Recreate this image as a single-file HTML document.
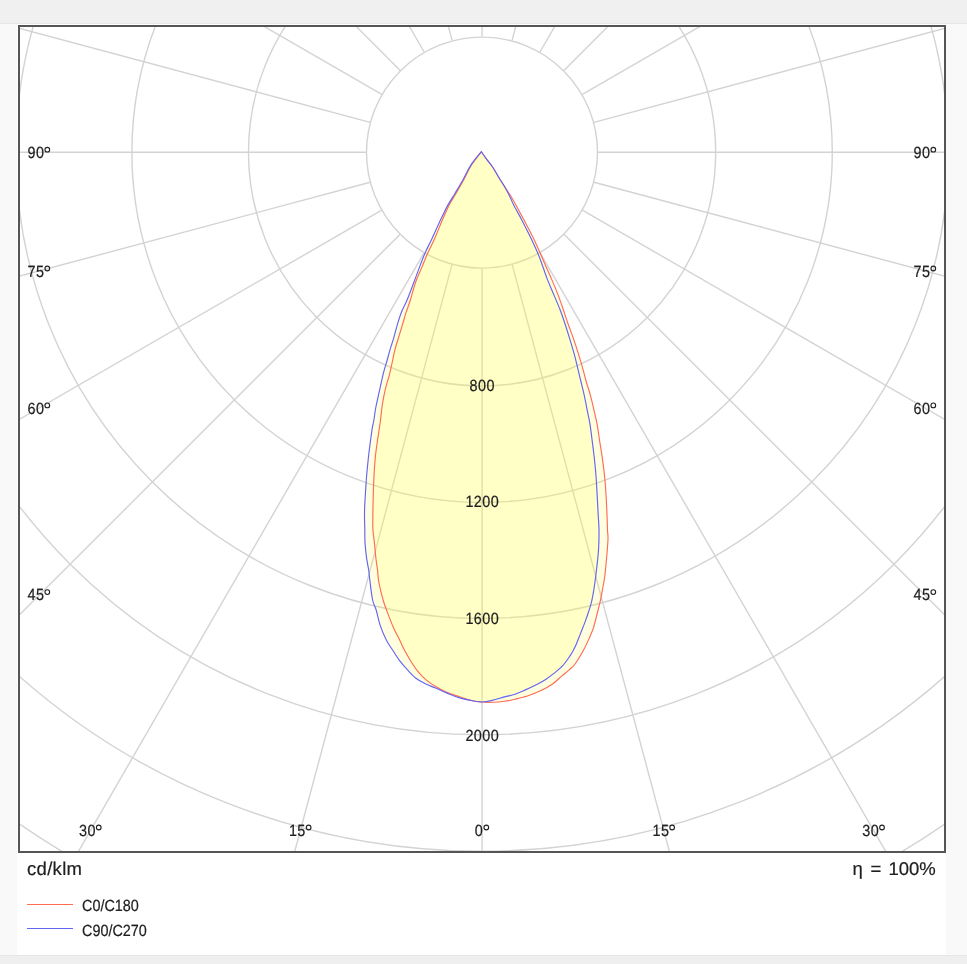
<!DOCTYPE html>
<html><head><meta charset="utf-8"><style>
html,body{margin:0;padding:0;width:967px;height:964px;overflow:hidden;background:#f9f9f9;font-family:"Liberation Sans", sans-serif;}
</style></head><body>
<svg width="967" height="964" viewBox="0 0 967 964" style="position:absolute;left:0;top:0"><rect x="0" y="0" width="967" height="964" fill="#f9f9f9"/><rect x="0" y="0" width="967" height="23" fill="#f0f0f0"/><rect x="0" y="23" width="967" height="1" fill="#e6e6e6"/><rect x="17" y="24" width="929" height="931" fill="#ffffff"/><rect x="0" y="955" width="967" height="1" fill="#e6e6e6"/><rect x="0" y="956" width="967" height="8" fill="#efefef"/><defs><clipPath id="c"><rect x="20" y="27" width="924" height="824"/></clipPath></defs><g clip-path="url(#c)"><g fill="none" stroke="#d3d3d3" stroke-width="1.4"><circle cx="482.08" cy="152.28" r="233.6"/><circle cx="482.08" cy="152.28" r="350.2"/><circle cx="482.08" cy="152.28" r="466.2"/><circle cx="482.08" cy="152.28" r="582.5"/><circle cx="482.08" cy="152.28" r="699"/><circle cx="482.08" cy="152.28" r="815.5"/><circle cx="482.08" cy="152.28" r="932"/><circle cx="482.0" cy="152.6" r="115.5"/><line x1="482.08" y1="268.08" x2="482.08" y2="1352.28"/><line x1="512.05" y1="264.13" x2="792.66" y2="1311.39"/><line x1="539.98" y1="252.57" x2="1082.08" y2="1191.51"/><line x1="563.96" y1="234.16" x2="1330.61" y2="1000.81"/><line x1="582.37" y1="210.18" x2="1521.31" y2="752.28"/><line x1="593.93" y1="182.25" x2="1641.19" y2="462.86"/><line x1="597.88" y1="152.28" x2="1682.08" y2="152.28"/><line x1="593.93" y1="122.31" x2="1641.19" y2="-158.3"/><line x1="582.37" y1="94.38" x2="1521.31" y2="-447.72"/><line x1="563.96" y1="70.4" x2="1330.61" y2="-696.25"/><line x1="539.98" y1="51.99" x2="1082.08" y2="-886.95"/><line x1="512.05" y1="40.43" x2="792.66" y2="-1006.83"/><line x1="482.08" y1="36.48" x2="482.08" y2="-1047.72"/><line x1="452.11" y1="40.43" x2="171.5" y2="-1006.83"/><line x1="424.18" y1="51.99" x2="-117.92" y2="-886.95"/><line x1="400.2" y1="70.4" x2="-366.45" y2="-696.25"/><line x1="381.79" y1="94.38" x2="-557.15" y2="-447.72"/><line x1="370.23" y1="122.31" x2="-677.03" y2="-158.3"/><line x1="366.28" y1="152.28" x2="-717.92" y2="152.28"/><line x1="370.23" y1="182.25" x2="-677.03" y2="462.86"/><line x1="381.79" y1="210.18" x2="-557.15" y2="752.28"/><line x1="400.2" y1="234.16" x2="-366.45" y2="1000.81"/><line x1="424.18" y1="252.57" x2="-117.92" y2="1191.51"/><line x1="452.11" y1="264.13" x2="171.5" y2="1311.39"/></g><path d="M481.40,151.70 C479.67,153.90 474.08,160.18 471.00,164.90 C467.92,169.62 465.60,175.20 462.90,180.00 C460.20,184.80 457.28,189.55 454.80,193.70 C452.32,197.85 450.27,200.75 448.00,204.90 C445.73,209.05 443.93,212.83 441.20,218.60 C438.47,224.37 434.25,233.87 431.60,239.50 C428.95,245.13 427.25,247.97 425.30,252.40 C423.35,256.83 421.80,261.12 419.90,266.10 C418.00,271.08 416.03,276.65 413.90,282.30 C411.77,287.95 409.12,295.18 407.10,300.00 C405.08,304.82 403.32,307.47 401.80,311.20 C400.28,314.93 399.32,318.05 398.00,322.40 C396.68,326.75 395.23,332.73 393.90,337.30 C392.57,341.87 391.12,346.02 390.00,349.80 C388.88,353.58 388.27,356.23 387.20,360.00 C386.13,363.77 384.72,368.05 383.60,372.40 C382.48,376.75 381.43,381.95 380.50,386.10 C379.57,390.25 378.82,393.57 378.00,397.30 C377.18,401.03 376.28,404.72 375.60,408.50 C374.92,412.28 374.43,416.85 373.90,420.00 C373.37,423.15 372.95,424.08 372.40,427.40 C371.85,430.72 371.17,435.75 370.60,439.90 C370.03,444.05 369.47,448.37 369.00,452.30 C368.53,456.23 368.20,459.55 367.80,463.50 C367.40,467.45 366.97,471.47 366.60,476.00 C366.23,480.53 365.92,485.70 365.60,490.70 C365.28,495.70 364.88,501.67 364.70,506.00 C364.52,510.33 364.48,512.70 364.50,516.70 C364.52,520.70 364.72,525.68 364.80,530.00 C364.88,534.32 364.70,537.90 365.00,542.60 C365.30,547.30 365.98,553.63 366.60,558.20 C367.22,562.77 368.17,566.37 368.70,570.00 C369.23,573.63 369.15,575.00 369.80,580.00 C370.45,585.00 371.53,595.00 372.60,600.00 C373.67,605.00 374.97,605.85 376.20,610.00 C377.43,614.15 378.33,619.93 380.00,624.90 C381.67,629.87 384.13,635.65 386.20,639.80 C388.27,643.95 390.10,646.23 392.40,649.80 C394.70,653.37 397.48,657.85 400.00,661.20 C402.52,664.55 404.90,667.10 407.50,669.90 C410.10,672.70 412.70,675.72 415.60,678.00 C418.50,680.28 421.58,681.93 424.90,683.60 C428.22,685.27 431.87,686.45 435.50,688.00 C439.13,689.55 442.67,691.25 446.70,692.90 C450.73,694.55 455.22,696.55 459.70,697.90 C464.18,699.25 469.88,700.32 473.60,701.00 C477.32,701.68 478.90,702.10 482.00,702.00 C485.10,701.90 488.43,701.25 492.20,700.40 C495.97,699.55 500.80,697.93 504.60,696.90 C508.40,695.87 511.72,695.28 515.00,694.20 C518.28,693.12 520.67,692.02 524.30,690.40 C527.93,688.78 533.17,686.37 536.80,684.50 C540.43,682.63 543.30,681.02 546.10,679.20 C548.90,677.38 550.90,675.77 553.60,673.60 C556.30,671.43 559.60,669.10 562.30,666.20 C565.00,663.30 567.93,658.90 569.80,656.20 C571.67,653.50 572.33,652.22 573.50,650.00 C574.67,647.78 575.63,645.63 576.80,642.90 C577.97,640.17 579.15,637.02 580.50,633.60 C581.85,630.18 583.55,626.03 584.90,622.40 C586.25,618.77 587.47,615.33 588.60,611.80 C589.73,608.27 590.73,605.50 591.70,601.20 C592.67,596.90 593.55,591.65 594.40,586.00 C595.25,580.35 596.10,573.52 596.80,567.30 C597.50,561.08 598.23,554.92 598.60,548.70 C598.97,542.48 599.07,535.67 599.00,530.00 C598.93,524.33 598.50,520.37 598.20,514.70 C597.90,509.03 597.55,502.23 597.20,496.00 C596.85,489.77 596.57,483.52 596.10,477.30 C595.63,471.08 595.07,464.92 594.40,458.70 C593.73,452.48 592.85,445.85 592.10,440.00 C591.35,434.15 590.68,428.42 589.90,423.60 C589.12,418.78 588.33,415.77 587.40,411.10 C586.47,406.43 585.40,400.62 584.30,395.60 C583.20,390.58 581.85,385.38 580.80,381.00 C579.75,376.62 579.08,373.73 578.00,369.30 C576.92,364.87 575.65,359.38 574.30,354.40 C572.95,349.42 571.55,344.80 569.90,339.40 C568.25,334.00 566.07,327.02 564.40,322.00 C562.73,316.98 561.68,313.90 559.90,309.30 C558.12,304.70 555.78,299.38 553.70,294.40 C551.62,289.42 549.48,284.80 547.40,279.40 C545.32,274.00 542.87,266.52 541.20,262.00 C539.53,257.48 539.28,256.62 537.40,252.30 C535.52,247.98 532.50,241.50 529.90,236.10 C527.30,230.70 524.50,225.08 521.80,219.90 C519.10,214.72 515.68,208.87 513.70,205.00 C511.72,201.13 511.37,199.65 509.90,196.70 C508.43,193.75 506.57,190.22 504.90,187.30 C503.23,184.38 501.98,182.62 499.90,179.20 C497.82,175.78 494.68,170.22 492.40,166.80 C490.12,163.38 488.03,161.22 486.20,158.70 C484.37,156.18 482.20,152.87 481.40,151.70 Z" fill="#ffff40" fill-opacity="0.16"/><path d="M481.40,151.70 C479.72,153.95 474.27,160.48 471.30,165.20 C468.33,169.92 466.23,175.15 463.60,180.00 C460.97,184.85 457.90,190.15 455.50,194.30 C453.10,198.45 451.28,200.85 449.20,204.90 C447.12,208.95 445.53,212.75 443.00,218.60 C440.47,224.45 436.60,234.15 434.00,240.00 C431.40,245.85 429.43,249.13 427.40,253.70 C425.37,258.27 423.77,262.63 421.80,267.40 C419.83,272.17 417.50,276.87 415.60,282.30 C413.70,287.73 411.98,294.98 410.40,300.00 C408.82,305.02 407.43,308.25 406.10,312.40 C404.77,316.55 403.65,320.75 402.40,324.90 C401.15,329.05 399.85,333.15 398.60,337.30 C397.35,341.45 395.88,346.02 394.90,349.80 C393.92,353.58 393.65,355.70 392.70,360.00 C391.75,364.30 390.30,371.25 389.20,375.60 C388.10,379.95 387.03,382.48 386.10,386.10 C385.17,389.72 384.32,393.57 383.60,397.30 C382.88,401.03 382.32,404.72 381.80,408.50 C381.28,412.28 380.97,416.32 380.50,420.00 C380.03,423.68 379.57,426.77 379.00,430.60 C378.43,434.43 377.68,438.87 377.10,443.00 C376.52,447.13 375.92,451.57 375.50,455.40 C375.08,459.23 374.85,462.57 374.60,466.00 C374.35,469.43 374.20,471.88 374.00,476.00 C373.80,480.12 373.58,484.92 373.40,490.70 C373.22,496.48 372.98,504.25 372.90,510.70 C372.82,517.15 372.65,524.08 372.90,529.40 C373.15,534.72 373.90,537.80 374.40,542.60 C374.90,547.40 375.38,553.63 375.90,558.20 C376.42,562.77 377.02,566.03 377.50,570.00 C377.98,573.97 377.87,577.00 378.80,582.00 C379.73,587.00 381.67,594.93 383.10,600.00 C384.53,605.07 385.65,607.73 387.40,612.40 C389.15,617.07 391.52,623.33 393.60,628.00 C395.68,632.67 398.10,636.73 399.90,640.40 C401.70,644.07 402.32,646.12 404.40,650.00 C406.48,653.88 410.02,659.97 412.40,663.70 C414.78,667.43 416.42,669.70 418.70,672.40 C420.98,675.10 423.42,677.62 426.10,679.90 C428.78,682.18 431.37,684.03 434.80,686.10 C438.23,688.17 442.55,690.53 446.70,692.30 C450.85,694.07 455.22,695.25 459.70,696.70 C464.18,698.15 469.88,700.12 473.60,701.00 C477.32,701.88 478.90,701.78 482.00,702.00 C485.10,702.22 488.43,702.42 492.20,702.30 C495.97,702.18 500.80,701.82 504.60,701.30 C508.40,700.78 511.20,700.08 515.00,699.20 C518.80,698.32 523.25,697.35 527.40,696.00 C531.55,694.65 535.75,693.07 539.90,691.10 C544.05,689.13 548.67,686.70 552.30,684.20 C555.93,681.70 558.90,678.48 561.70,676.10 C564.50,673.72 566.88,671.92 569.10,669.90 C571.32,667.88 572.58,667.32 575.00,664.00 C577.42,660.68 581.12,654.55 583.60,650.00 C586.08,645.45 588.23,640.48 589.90,636.70 C591.57,632.92 592.37,631.25 593.60,627.30 C594.83,623.35 596.17,617.45 597.30,613.00 C598.43,608.55 599.55,604.43 600.40,600.60 C601.25,596.77 601.68,593.98 602.40,590.00 C603.12,586.02 604.00,582.03 604.70,576.70 C605.40,571.37 606.05,564.23 606.60,558.00 C607.15,551.77 607.85,543.97 608.00,539.30 C608.15,534.63 607.67,534.10 607.50,530.00 C607.33,525.90 607.23,520.37 607.00,514.70 C606.77,509.03 606.48,502.23 606.10,496.00 C605.72,489.77 605.32,483.52 604.70,477.30 C604.08,471.08 603.27,464.92 602.40,458.70 C601.53,452.48 600.40,445.85 599.50,440.00 C598.60,434.15 597.88,428.42 597.00,423.60 C596.12,418.78 595.28,415.77 594.20,411.10 C593.12,406.43 591.88,400.70 590.50,395.60 C589.12,390.50 587.15,384.88 585.90,380.50 C584.65,376.12 584.22,373.65 583.00,369.30 C581.78,364.95 580.15,359.38 578.60,354.40 C577.05,349.42 575.57,344.80 573.70,339.40 C571.83,334.00 569.18,327.12 567.40,322.00 C565.62,316.88 564.67,313.52 563.00,308.70 C561.33,303.88 559.37,298.18 557.40,293.10 C555.43,288.02 553.43,283.38 551.20,278.20 C548.97,273.02 545.90,266.32 544.00,262.00 C542.10,257.68 541.73,256.62 539.80,252.30 C537.87,247.98 534.98,241.38 532.40,236.10 C529.82,230.82 527.05,225.78 524.30,220.60 C521.55,215.42 518.28,209.30 515.90,205.00 C513.52,200.70 511.77,197.70 510.00,194.80 C508.23,191.90 506.98,190.20 505.30,187.60 C503.62,185.00 502.05,182.67 499.90,179.20 C497.75,175.73 494.68,170.22 492.40,166.80 C490.12,163.38 488.03,161.22 486.20,158.70 C484.37,156.18 482.20,152.87 481.40,151.70 Z" fill="#ffff40" fill-opacity="0.16"/><path d="M481.40,151.70 C479.72,153.95 474.27,160.48 471.30,165.20 C468.33,169.92 466.23,175.15 463.60,180.00 C460.97,184.85 457.90,190.15 455.50,194.30 C453.10,198.45 451.28,200.85 449.20,204.90 C447.12,208.95 445.53,212.75 443.00,218.60 C440.47,224.45 436.60,234.15 434.00,240.00 C431.40,245.85 429.43,249.13 427.40,253.70 C425.37,258.27 423.77,262.63 421.80,267.40 C419.83,272.17 417.50,276.87 415.60,282.30 C413.70,287.73 411.98,294.98 410.40,300.00 C408.82,305.02 407.43,308.25 406.10,312.40 C404.77,316.55 403.65,320.75 402.40,324.90 C401.15,329.05 399.85,333.15 398.60,337.30 C397.35,341.45 395.88,346.02 394.90,349.80 C393.92,353.58 393.65,355.70 392.70,360.00 C391.75,364.30 390.30,371.25 389.20,375.60 C388.10,379.95 387.03,382.48 386.10,386.10 C385.17,389.72 384.32,393.57 383.60,397.30 C382.88,401.03 382.32,404.72 381.80,408.50 C381.28,412.28 380.97,416.32 380.50,420.00 C380.03,423.68 379.57,426.77 379.00,430.60 C378.43,434.43 377.68,438.87 377.10,443.00 C376.52,447.13 375.92,451.57 375.50,455.40 C375.08,459.23 374.85,462.57 374.60,466.00 C374.35,469.43 374.20,471.88 374.00,476.00 C373.80,480.12 373.58,484.92 373.40,490.70 C373.22,496.48 372.98,504.25 372.90,510.70 C372.82,517.15 372.65,524.08 372.90,529.40 C373.15,534.72 373.90,537.80 374.40,542.60 C374.90,547.40 375.38,553.63 375.90,558.20 C376.42,562.77 377.02,566.03 377.50,570.00 C377.98,573.97 377.87,577.00 378.80,582.00 C379.73,587.00 381.67,594.93 383.10,600.00 C384.53,605.07 385.65,607.73 387.40,612.40 C389.15,617.07 391.52,623.33 393.60,628.00 C395.68,632.67 398.10,636.73 399.90,640.40 C401.70,644.07 402.32,646.12 404.40,650.00 C406.48,653.88 410.02,659.97 412.40,663.70 C414.78,667.43 416.42,669.70 418.70,672.40 C420.98,675.10 423.42,677.62 426.10,679.90 C428.78,682.18 431.37,684.03 434.80,686.10 C438.23,688.17 442.55,690.53 446.70,692.30 C450.85,694.07 455.22,695.25 459.70,696.70 C464.18,698.15 469.88,700.12 473.60,701.00 C477.32,701.88 478.90,701.78 482.00,702.00 C485.10,702.22 488.43,702.42 492.20,702.30 C495.97,702.18 500.80,701.82 504.60,701.30 C508.40,700.78 511.20,700.08 515.00,699.20 C518.80,698.32 523.25,697.35 527.40,696.00 C531.55,694.65 535.75,693.07 539.90,691.10 C544.05,689.13 548.67,686.70 552.30,684.20 C555.93,681.70 558.90,678.48 561.70,676.10 C564.50,673.72 566.88,671.92 569.10,669.90 C571.32,667.88 572.58,667.32 575.00,664.00 C577.42,660.68 581.12,654.55 583.60,650.00 C586.08,645.45 588.23,640.48 589.90,636.70 C591.57,632.92 592.37,631.25 593.60,627.30 C594.83,623.35 596.17,617.45 597.30,613.00 C598.43,608.55 599.55,604.43 600.40,600.60 C601.25,596.77 601.68,593.98 602.40,590.00 C603.12,586.02 604.00,582.03 604.70,576.70 C605.40,571.37 606.05,564.23 606.60,558.00 C607.15,551.77 607.85,543.97 608.00,539.30 C608.15,534.63 607.67,534.10 607.50,530.00 C607.33,525.90 607.23,520.37 607.00,514.70 C606.77,509.03 606.48,502.23 606.10,496.00 C605.72,489.77 605.32,483.52 604.70,477.30 C604.08,471.08 603.27,464.92 602.40,458.70 C601.53,452.48 600.40,445.85 599.50,440.00 C598.60,434.15 597.88,428.42 597.00,423.60 C596.12,418.78 595.28,415.77 594.20,411.10 C593.12,406.43 591.88,400.70 590.50,395.60 C589.12,390.50 587.15,384.88 585.90,380.50 C584.65,376.12 584.22,373.65 583.00,369.30 C581.78,364.95 580.15,359.38 578.60,354.40 C577.05,349.42 575.57,344.80 573.70,339.40 C571.83,334.00 569.18,327.12 567.40,322.00 C565.62,316.88 564.67,313.52 563.00,308.70 C561.33,303.88 559.37,298.18 557.40,293.10 C555.43,288.02 553.43,283.38 551.20,278.20 C548.97,273.02 545.90,266.32 544.00,262.00 C542.10,257.68 541.73,256.62 539.80,252.30 C537.87,247.98 534.98,241.38 532.40,236.10 C529.82,230.82 527.05,225.78 524.30,220.60 C521.55,215.42 518.28,209.30 515.90,205.00 C513.52,200.70 511.77,197.70 510.00,194.80 C508.23,191.90 506.98,190.20 505.30,187.60 C503.62,185.00 502.05,182.67 499.90,179.20 C497.75,175.73 494.68,170.22 492.40,166.80 C490.12,163.38 488.03,161.22 486.20,158.70 C484.37,156.18 482.20,152.87 481.40,151.70 Z" fill="none" stroke="#ff6c52" stroke-width="1.15"/><path d="M481.40,151.70 C479.67,153.90 474.08,160.18 471.00,164.90 C467.92,169.62 465.60,175.20 462.90,180.00 C460.20,184.80 457.28,189.55 454.80,193.70 C452.32,197.85 450.27,200.75 448.00,204.90 C445.73,209.05 443.93,212.83 441.20,218.60 C438.47,224.37 434.25,233.87 431.60,239.50 C428.95,245.13 427.25,247.97 425.30,252.40 C423.35,256.83 421.80,261.12 419.90,266.10 C418.00,271.08 416.03,276.65 413.90,282.30 C411.77,287.95 409.12,295.18 407.10,300.00 C405.08,304.82 403.32,307.47 401.80,311.20 C400.28,314.93 399.32,318.05 398.00,322.40 C396.68,326.75 395.23,332.73 393.90,337.30 C392.57,341.87 391.12,346.02 390.00,349.80 C388.88,353.58 388.27,356.23 387.20,360.00 C386.13,363.77 384.72,368.05 383.60,372.40 C382.48,376.75 381.43,381.95 380.50,386.10 C379.57,390.25 378.82,393.57 378.00,397.30 C377.18,401.03 376.28,404.72 375.60,408.50 C374.92,412.28 374.43,416.85 373.90,420.00 C373.37,423.15 372.95,424.08 372.40,427.40 C371.85,430.72 371.17,435.75 370.60,439.90 C370.03,444.05 369.47,448.37 369.00,452.30 C368.53,456.23 368.20,459.55 367.80,463.50 C367.40,467.45 366.97,471.47 366.60,476.00 C366.23,480.53 365.92,485.70 365.60,490.70 C365.28,495.70 364.88,501.67 364.70,506.00 C364.52,510.33 364.48,512.70 364.50,516.70 C364.52,520.70 364.72,525.68 364.80,530.00 C364.88,534.32 364.70,537.90 365.00,542.60 C365.30,547.30 365.98,553.63 366.60,558.20 C367.22,562.77 368.17,566.37 368.70,570.00 C369.23,573.63 369.15,575.00 369.80,580.00 C370.45,585.00 371.53,595.00 372.60,600.00 C373.67,605.00 374.97,605.85 376.20,610.00 C377.43,614.15 378.33,619.93 380.00,624.90 C381.67,629.87 384.13,635.65 386.20,639.80 C388.27,643.95 390.10,646.23 392.40,649.80 C394.70,653.37 397.48,657.85 400.00,661.20 C402.52,664.55 404.90,667.10 407.50,669.90 C410.10,672.70 412.70,675.72 415.60,678.00 C418.50,680.28 421.58,681.93 424.90,683.60 C428.22,685.27 431.87,686.45 435.50,688.00 C439.13,689.55 442.67,691.25 446.70,692.90 C450.73,694.55 455.22,696.55 459.70,697.90 C464.18,699.25 469.88,700.32 473.60,701.00 C477.32,701.68 478.90,702.10 482.00,702.00 C485.10,701.90 488.43,701.25 492.20,700.40 C495.97,699.55 500.80,697.93 504.60,696.90 C508.40,695.87 511.72,695.28 515.00,694.20 C518.28,693.12 520.67,692.02 524.30,690.40 C527.93,688.78 533.17,686.37 536.80,684.50 C540.43,682.63 543.30,681.02 546.10,679.20 C548.90,677.38 550.90,675.77 553.60,673.60 C556.30,671.43 559.60,669.10 562.30,666.20 C565.00,663.30 567.93,658.90 569.80,656.20 C571.67,653.50 572.33,652.22 573.50,650.00 C574.67,647.78 575.63,645.63 576.80,642.90 C577.97,640.17 579.15,637.02 580.50,633.60 C581.85,630.18 583.55,626.03 584.90,622.40 C586.25,618.77 587.47,615.33 588.60,611.80 C589.73,608.27 590.73,605.50 591.70,601.20 C592.67,596.90 593.55,591.65 594.40,586.00 C595.25,580.35 596.10,573.52 596.80,567.30 C597.50,561.08 598.23,554.92 598.60,548.70 C598.97,542.48 599.07,535.67 599.00,530.00 C598.93,524.33 598.50,520.37 598.20,514.70 C597.90,509.03 597.55,502.23 597.20,496.00 C596.85,489.77 596.57,483.52 596.10,477.30 C595.63,471.08 595.07,464.92 594.40,458.70 C593.73,452.48 592.85,445.85 592.10,440.00 C591.35,434.15 590.68,428.42 589.90,423.60 C589.12,418.78 588.33,415.77 587.40,411.10 C586.47,406.43 585.40,400.62 584.30,395.60 C583.20,390.58 581.85,385.38 580.80,381.00 C579.75,376.62 579.08,373.73 578.00,369.30 C576.92,364.87 575.65,359.38 574.30,354.40 C572.95,349.42 571.55,344.80 569.90,339.40 C568.25,334.00 566.07,327.02 564.40,322.00 C562.73,316.98 561.68,313.90 559.90,309.30 C558.12,304.70 555.78,299.38 553.70,294.40 C551.62,289.42 549.48,284.80 547.40,279.40 C545.32,274.00 542.87,266.52 541.20,262.00 C539.53,257.48 539.28,256.62 537.40,252.30 C535.52,247.98 532.50,241.50 529.90,236.10 C527.30,230.70 524.50,225.08 521.80,219.90 C519.10,214.72 515.68,208.87 513.70,205.00 C511.72,201.13 511.37,199.65 509.90,196.70 C508.43,193.75 506.57,190.22 504.90,187.30 C503.23,184.38 501.98,182.62 499.90,179.20 C497.82,175.78 494.68,170.22 492.40,166.80 C490.12,163.38 488.03,161.22 486.20,158.70 C484.37,156.18 482.20,152.87 481.40,151.70 Z" fill="none" stroke="#6464f4" stroke-width="1.15"/></g><rect x="19" y="26" width="926" height="826" fill="none" stroke="#555555" stroke-width="2"/><g font-family='"Liberation Sans", sans-serif' fill="#202020" stroke="#202020" stroke-width="0.2" style="will-change:transform" text-rendering="geometricPrecision"><text transform="translate(482.28,390.7) scale(0.889,1)" text-anchor="middle" font-size="16.2" letter-spacing="0.5">800</text><text transform="translate(482.28,506.7) scale(0.889,1)" text-anchor="middle" font-size="16.2" letter-spacing="0.5">1200</text><text transform="translate(482.28,623.6) scale(0.889,1)" text-anchor="middle" font-size="16.2" letter-spacing="0.5">1600</text><text transform="translate(482.28,740.9) scale(0.889,1)" text-anchor="middle" font-size="16.2" letter-spacing="0.5">2000</text><text transform="translate(27.6,158) scale(0.889,1)" text-anchor="start" font-size="16.2" letter-spacing="0.5">90</text><text transform="translate(913.6,158) scale(0.889,1)" text-anchor="start" font-size="16.2" letter-spacing="0.5">90</text><text transform="translate(27.6,276.8) scale(0.889,1)" text-anchor="start" font-size="16.2" letter-spacing="0.5">75</text><text transform="translate(913.6,276.8) scale(0.889,1)" text-anchor="start" font-size="16.2" letter-spacing="0.5">75</text><text transform="translate(27.6,413.7) scale(0.889,1)" text-anchor="start" font-size="16.2" letter-spacing="0.5">60</text><text transform="translate(913.6,413.7) scale(0.889,1)" text-anchor="start" font-size="16.2" letter-spacing="0.5">60</text><text transform="translate(27.6,600.4) scale(0.889,1)" text-anchor="start" font-size="16.2" letter-spacing="0.5">45</text><text transform="translate(913.6,600.4) scale(0.889,1)" text-anchor="start" font-size="16.2" letter-spacing="0.5">45</text><text transform="translate(79.05,835.8) scale(0.889,1)" text-anchor="start" font-size="16.2" letter-spacing="0.5">30</text><text transform="translate(862.31,835.8) scale(0.889,1)" text-anchor="start" font-size="16.2" letter-spacing="0.5">30</text><text transform="translate(288.92,835.8) scale(0.889,1)" text-anchor="start" font-size="16.2" letter-spacing="0.5">15</text><text transform="translate(652.44,835.8) scale(0.889,1)" text-anchor="start" font-size="16.2" letter-spacing="0.5">15</text><text transform="translate(474.75,835.8) scale(0.889,1)" text-anchor="start" font-size="16.2" letter-spacing="0.5">0</text><text transform="translate(27,874.8) scale(1,1)" text-anchor="start" font-size="18.5" letter-spacing="0.3">cd/klm</text><text transform="translate(852.5,874.8) scale(1,1)" text-anchor="start" font-size="18.5" >η</text><text transform="translate(870.5,874.8) scale(1,1)" text-anchor="start" font-size="18.5" >=</text><text transform="translate(888.5,874.8) scale(1,1)" text-anchor="start" font-size="18.5" letter-spacing="0">100%</text><text transform="translate(82,911) scale(0.889,1)" text-anchor="start" font-size="16.2" >C0/C180</text><text transform="translate(82,935.5) scale(0.889,1)" text-anchor="start" font-size="16.2" >C90/C270</text></g><g fill="none" stroke="#202020" stroke-width="1.1"><circle cx="47.3" cy="149.7" r="2.35"/><circle cx="933.3" cy="149.7" r="2.35"/><circle cx="47.3" cy="268.5" r="2.35"/><circle cx="933.3" cy="268.5" r="2.35"/><circle cx="47.3" cy="405.4" r="2.35"/><circle cx="933.3" cy="405.4" r="2.35"/><circle cx="47.3" cy="592.1" r="2.35"/><circle cx="933.3" cy="592.1" r="2.35"/><circle cx="98.75" cy="827.5" r="2.35"/><circle cx="882.01" cy="827.5" r="2.35"/><circle cx="308.62" cy="827.5" r="2.35"/><circle cx="672.14" cy="827.5" r="2.35"/><circle cx="486.31" cy="827.5" r="2.35"/></g><line x1="27" y1="904.5" x2="73" y2="904.5" stroke="#ff6c52" stroke-width="1"/><line x1="27" y1="928.5" x2="73" y2="928.5" stroke="#6464f4" stroke-width="1"/></svg>
</body></html>
